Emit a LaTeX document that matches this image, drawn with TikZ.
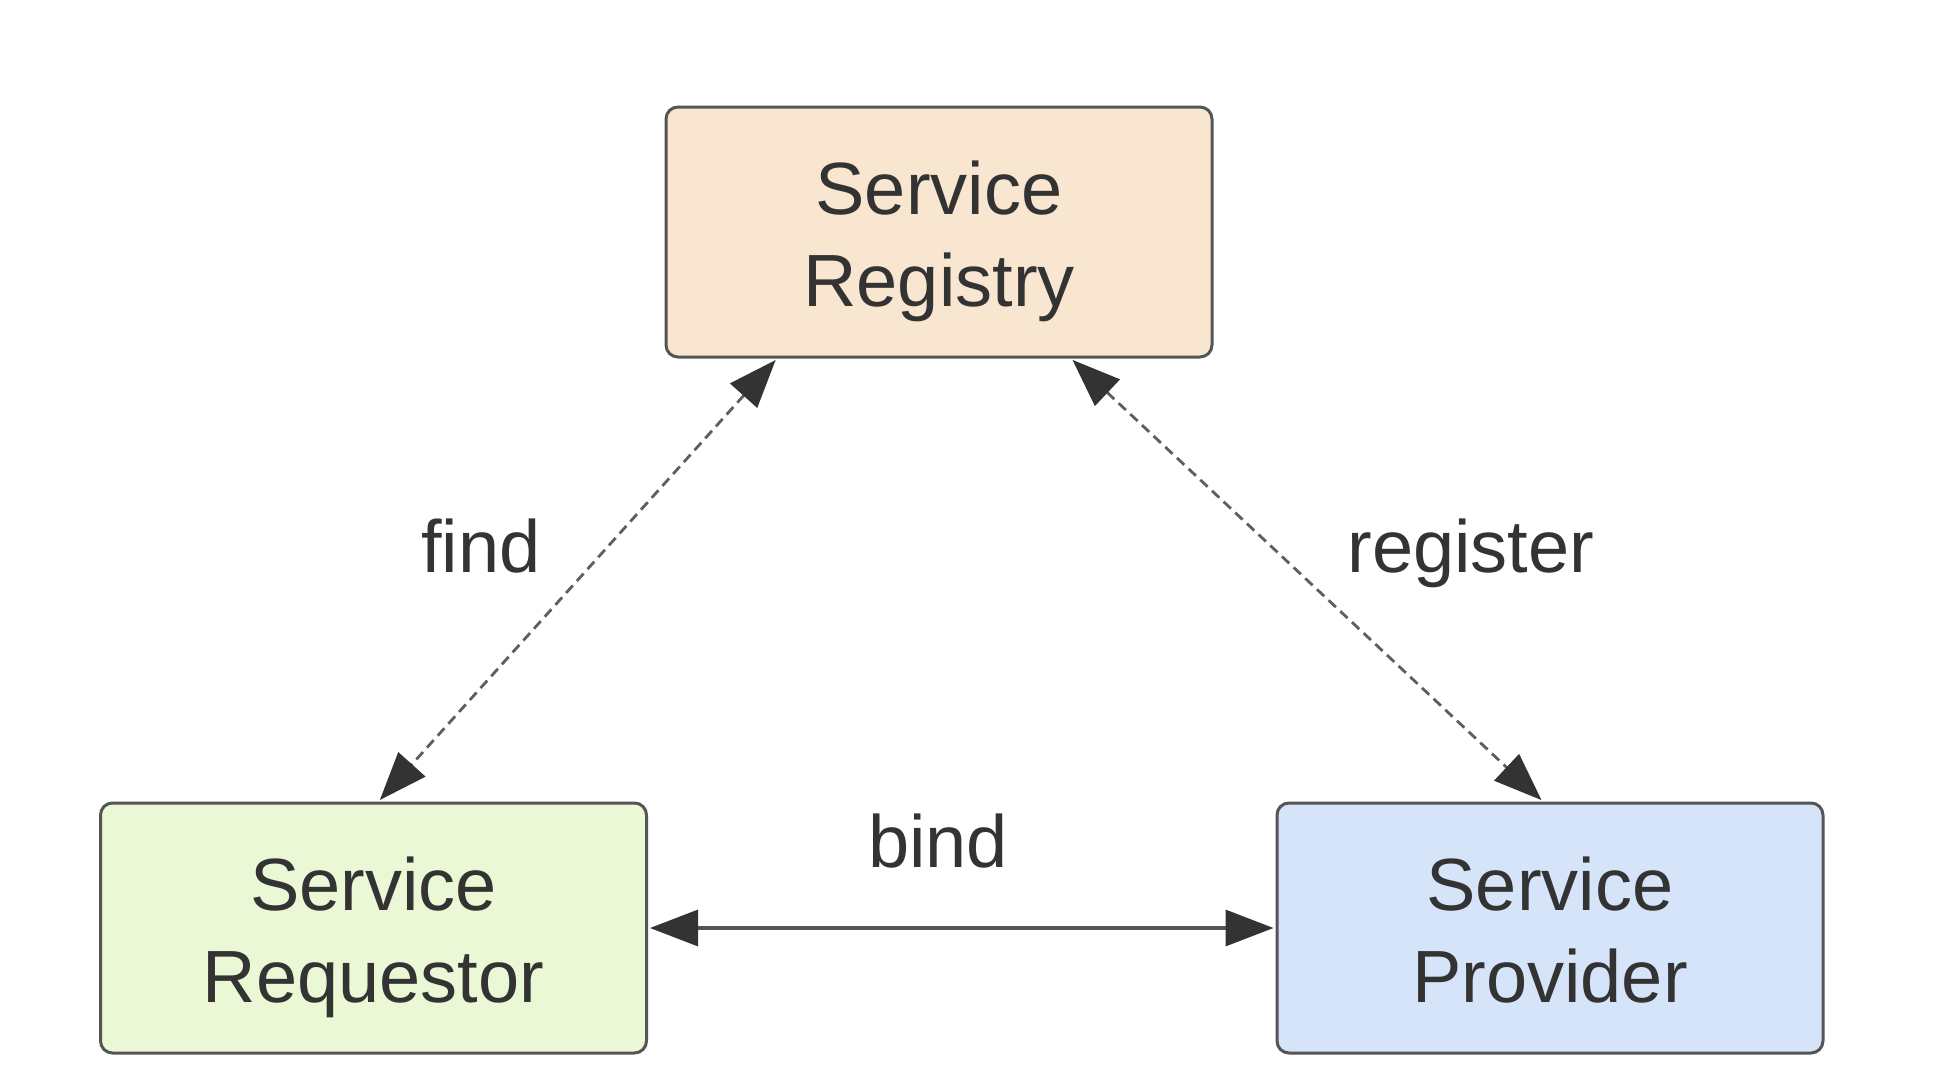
\documentclass[tikz,border=0pt]{standalone}
\usepackage{fontspec}
\setmainfont{Liberation Sans}
\usetikzlibrary{arrows.meta}
\definecolor{txt}{HTML}{333333}
\definecolor{edge}{HTML}{555555}
\definecolor{linec}{HTML}{5E5E5E}
\definecolor{solidc}{HTML}{555555}
\definecolor{regfill}{HTML}{F8E6D1}
\definecolor{reqfill}{HTML}{EBF8D5}
\definecolor{provfill}{HTML}{D5E4F9}
\newcommand{\boxtext}[2]{\raisebox{9pt}[0pt][0pt]{\begin{tabular}[t]{@{}c@{}}#1\\#2\end{tabular}}}
\tikzset{
  boxstyle/.style={draw=edge, line width=1.5pt, rounded corners=6pt,
    minimum width=273pt, minimum height=125pt, inner sep=0pt,
    text=txt, font=\fontsize{37}{46}\selectfont},
  lbl/.style={text=txt, font=\fontsize{37}{46}\selectfont, anchor=base, inner sep=0pt},
  conn/.style={draw=linec, line width=1.4pt,
    {Triangle[length=24pt,width=18pt,fill=txt,color=txt]}-{Triangle[length=24pt,width=18pt,fill=txt,color=txt]},
    shorten <=1pt, shorten >=1pt},
  dashconn/.style={conn, dash pattern=on 5pt off 3pt},
  solidconn/.style={conn, draw=solidc, line width=1.7pt}
}
\begin{document}
\begin{tikzpicture}[x=0.5pt,y=-0.5pt]
\useasboundingbox (0,0) rectangle (1940,1092);
\node[boxstyle, fill=regfill] (reg) at (939,232) {\boxtext{Service}{Registry}};
\node[boxstyle, fill=reqfill] (req) at (373.5,928) {\boxtext{Service}{Requestor}};
\node[boxstyle, fill=provfill] (prov) at (1550,928) {\boxtext{Service}{Provider}};
\coordinate (regL) at ([xshift=-81pt]reg.south);
\coordinate (regR) at ([xshift=66pt]reg.south);
\coordinate (reqT) at ([xshift=2.5pt]req.north);
\coordinate (provT) at ([xshift=-3.5pt]prov.north);
\draw[dashconn] (regL) -- (reqT);
\draw[dashconn] (regR) -- (provT);
\draw[solidconn] (req.east) -- (prov.west);
\node[lbl] (findl) at (481,572) {find};
\node[lbl] (regl) at (1471,572) {register};
\node[lbl] (bindl) at (938,867) {bind};
\end{tikzpicture}
\end{document}
